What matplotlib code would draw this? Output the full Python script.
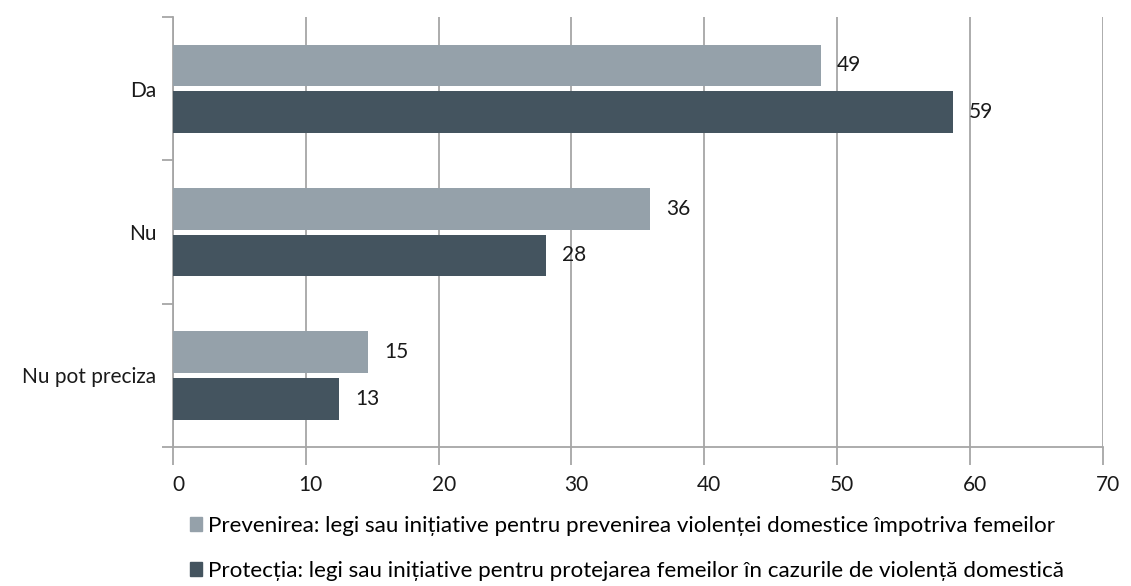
import numpy as np
import matplotlib
matplotlib.use('Agg')
from matplotlib import pyplot as plt
from matplotlib.patches import Patch
from matplotlib.transforms import ScaledTranslation

categories = ['Da', 'Nu', 'Nu pot preciza']
prevenire = [48.8, 35.9, 14.7]
protectie = [58.7, 28.1, 12.5]
prevenire_labels = ['49', '36', '15']
protectie_labels = ['59', '28', '13']
legend_labels = ['Prevenirea: legi sau inițiative pentru prevenirea violenței domestice împotriva femeilor',
                 'Protecția: legi sau inițiative pentru protejarea femeilor în cazurile de violență domestică']

light = '#95a1aa'
dark = '#44545f'
grid = '#a6a6a6'

plt.rcParams['font.family'] = ['Lato', 'DejaVu Sans']
plt.rcParams['font.size'] = 15

fig = plt.figure(figsize=(11.31, 5.86), dpi=100)
ax = fig.add_axes([0.153, 0.237, 0.822, 0.734])

y = np.arange(len(categories))[::-1]
h = 0.29
gap = 0.035
off = h / 2 + gap / 2

b1 = ax.barh(y + off, prevenire, height=h, color=light, zorder=3)
b2 = ax.barh(y - off, protectie, height=h, color=dark, zorder=3)

for bars, labs in ((b1, prevenire_labels), (b2, protectie_labels)):
    for bar, lab in zip(bars, labs):
        ax.text(bar.get_width() + 1.2, bar.get_y() + bar.get_height() / 2, lab,
                va='center', ha='left', color='#1a1a1a', fontsize=15)

ax.set_xlim(0, 70)
ax.set_ylim(-0.5, 2.5)
ax.set_xticks(range(0, 71, 10))
ax.xaxis.grid(True, color=grid, linewidth=1.3, zorder=0)
ax.set_axisbelow(True)

ax.set_yticks(y)
ax.set_yticklabels(categories)
ax.set_yticks([-0.5, 0.5, 1.5, 2.5], minor=True)
ax.tick_params(axis='y', which='major', length=0, pad=12, labelcolor='#1a1a1a')
ax.tick_params(axis='y', which='minor', length=8, color=grid, width=1.3)
ax.tick_params(axis='x', length=13, color=grid, width=1.3, pad=7, labelcolor='#1a1a1a')
shift = ScaledTranslation(5 / 100, 0, fig.dpi_scale_trans)
for t in ax.get_xticklabels():
    t.set_transform(t.get_transform() + shift)

for s in ('top', 'right'):
    ax.spines[s].set_visible(False)
for s in ('left', 'bottom'):
    ax.spines[s].set_color(grid)
    ax.spines[s].set_linewidth(1.3)

handles = [Patch(color=light), Patch(color=dark)]
fig.legend(handles, legend_labels, loc='upper left', bbox_to_anchor=(0.168, 0.12),
           frameon=False, handlelength=0.55, handleheight=0.6, handletextpad=0.25,
           labelspacing=1.12, fontsize=16.1, borderaxespad=0, borderpad=0)

fig.savefig('out.png', dpi=100)
